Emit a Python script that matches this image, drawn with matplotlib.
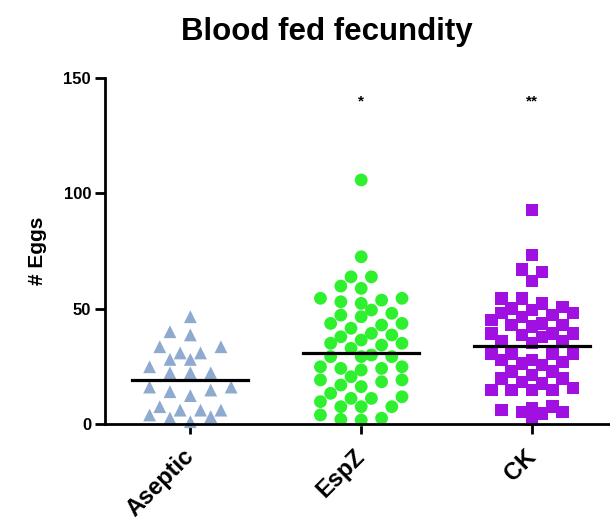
import numpy as np
import matplotlib
matplotlib.use("Agg")
import matplotlib.pyplot as plt

plt.rcParams['font.family'] = ['Liberation Sans', 'DejaVu Sans']

groups = ["Aseptic", "EspZ", "CK"]
aseptic = [46.5, 40, 38.6, 33.5, 33.5, 30.8, 30.8, 28, 28, 24.8, 22.2, 22.2, 22.2,
           16, 16, 14.7, 14, 12.3, 7.5, 6, 6, 6, 3.9, 3.2, 2.6, 1]
espz = [105.8, 72.5, 63.8, 63.8, 59.8, 58.8, 54.5, 54.5, 53.7, 53, 52.3, 49.4, 48,
        47.2, 46.5, 43.6, 43.6, 42.9, 41.5, 39.3, 38.6, 37.8, 36.4, 35, 35, 34.2,
        32.8, 29.9, 29.2, 29.2, 29.2, 24.8, 24.8, 24.1, 24.1, 23.4, 20.5, 19.1, 19.1,
        18.3, 16.9, 16.2, 13.3, 11.8, 11.1, 11.1, 9.7, 7.5, 7.5, 7.5, 3.9, 2.5, 2, 1.7]
ck = [92.8, 73.3, 67, 66, 62.1, 54.5, 54.5, 52.3, 50.8, 50.1, 49.4, 48, 48, 47.2,
      46.5, 45, 43.6, 42.9, 42.9, 42.2, 39.3, 39.3, 39.3, 38.6, 37.8, 35.7, 35.7, 35,
      30.6, 30.6, 30.6, 30.6, 27.7, 27.7, 27, 26.3, 25.6, 22.7, 22.7, 21.2, 19.8, 19.8,
      18.3, 17.6, 15.5, 14.7, 14.7, 14.7, 14.7, 7.5, 6.8, 6, 5.3, 5.3, 4.6, 1.7]
means = [19.2, 30.9, 33.9]
stars = ["", "*", "**"]

colors = ["#8faacf", "#2ef02e", "#a010e0"]
markers = ["^", "o", "s"]


def swarm(vals, px_x=171.0, px_y=2.307, step=10.2, dmin=12.0, maxcol=4):
    # greedy column swarm in pixel space, at most maxcol columns each side
    vals = np.asarray(vals, float)
    offs = np.zeros(len(vals))
    placed = []
    tries = [0]
    for k in range(1, maxcol + 1):
        tries += [k, -k] if k % 2 else [-k, k]
    for i in np.argsort(vals):
        y = vals[i] * px_y
        best, bestd = 0, -1
        for k in tries:
            x = k * step
            d = min([np.hypot(x - a, y - b) for a, b in placed] or [99])
            if d >= dmin:
                best = k
                break
            if d > bestd:
                best, bestd = k, d
        x = best * step
        placed.append((x, y))
        offs[i] = x / px_x
    return offs


fig = plt.figure(figsize=(6.10, 5.29), dpi=100)
ax = fig.add_axes([0.172, 0.1985, 0.828, 0.654])

for i, vals in enumerate([aseptic, espz, ck]):
    xs = i + swarm(vals)
    ax.scatter(xs, vals, s=85 if markers[i] != "s" else 80, marker=markers[i],
               color=colors[i], edgecolors="none", clip_on=False, zorder=3)
    ax.plot([i - 0.34, i + 0.34], [means[i], means[i]], color="black", lw=2.3, zorder=4)
    if stars[i]:
        ax.text(i, 137, stars[i], ha="center", va="bottom", fontsize=11, fontweight="bold")

ax.set_xlim(-0.5, 2.456)
ax.set_ylim(0, 150)
ax.set_yticks([0, 50, 100, 150])
ax.set_xticks(range(3))
ax.set_xticklabels(groups, rotation=45, ha="right", va="center", rotation_mode="anchor",
                   fontsize=17, fontweight="bold")
for lab in ax.get_yticklabels():
    lab.set_fontweight("bold")
    lab.set_fontsize(12)
ax.spines["top"].set_visible(False)
ax.spines["right"].set_visible(False)
ax.spines["left"].set_linewidth(2)
ax.spines["bottom"].set_linewidth(2)
ax.spines["left"].set_zorder(5)
ax.spines["bottom"].set_zorder(5)
ax.tick_params(axis="both", width=2, length=7, pad=3)
ax.tick_params(axis="x", pad=14)
ax.set_ylabel("# Eggs", fontsize=15, fontweight="bold", labelpad=12)

fig.text(0.536, 0.94, "Blood fed fecundity", ha="center", va="center",
         fontsize=22.5, fontweight="bold")

fig.savefig("out.png", dpi=100)
